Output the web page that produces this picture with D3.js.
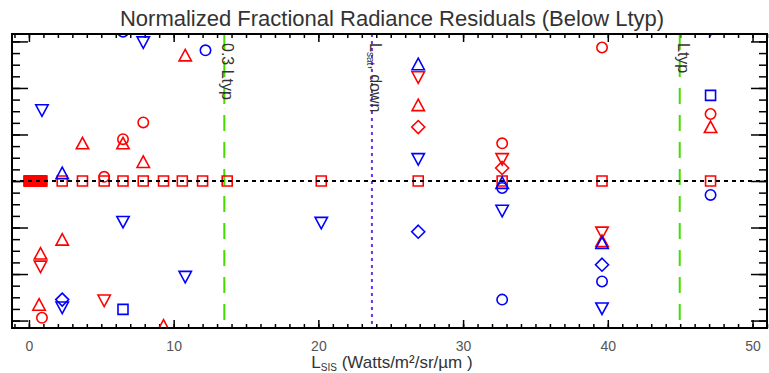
<!DOCTYPE html>
<head>
  <meta charset="utf-8">
  <script src="https://cdn.jsdelivr.net/npm/d3@7"></script>
  <style>
    body { margin: 0; background: #fff; }
    svg { display: block; font-family: 'Liberation Sans', Arial, sans-serif; }
  </style>
</head>
<body>
<div id="chart"></div>
<script>
// [L_sis, normalized residual]
const red_squares = [[0, 0], [0.05, 0], [0.1, 0], [0.15, 0], [0.2, 0], [0.25, 0], [0.3, 0], [0.35, 0], [0.4, 0],
  [0.45, 0], [0.5, 0], [0.55, 0], [0.6, 0], [0.65, 0], [0.7, 0], [0.75, 0], [0.8, 0], [0.85, 0], [0.9, 0],
  [2.3, 0], [3.7, 0], [5.2, 0], [6.5, 0], [7.9, 0], [9.3, 0], [10.6, 0], [12.0, 0], [13.7, 0],
  [20.2, 0], [26.9, 0], [32.7, 0], [39.6, 0], [47.1, 0]]
const red_circles = [[0.9, -2.94], [5.2, 0.09], [6.5, 0.90], [7.9, 1.26], [32.7, 0.81], [39.6, 2.87], [47.1, 1.44]]
const red_up = [[0.8, -1.56], [0.7, -2.66], [2.3, -1.26], [3.7, 0.81], [6.5, 0.81], [7.9, 0.41], [9.3, -3.11],
  [10.8, 2.70], [26.9, 1.63], [39.6, -1.29], [47.1, 1.16]]
const red_down = [[0.8, -1.84], [5.2, -2.57], [26.9, 2.23], [32.7, 0.47], [39.6, -1.11]]
const red_diamonds = [[26.9, 1.16], [32.7, 0.28]]

const blue_squares = [[6.5, -2.76], [47.1, 1.84]]
const blue_circles = [[6.5, 3.21], [12.2, 2.81], [32.7, -0.15], [32.7, -2.55], [39.6, -2.16], [47.1, -0.30]]
const blue_up = [[2.3, 0.17], [26.9, 2.51], [32.7, -0.04], [39.6, -1.33]]
const blue_down = [[0.9, 1.52], [2.3, -2.72], [6.5, -0.88], [7.9, 2.98], [10.8, -2.06], [20.2, -0.90],
  [26.9, 0.47], [32.7, -0.64], [39.6, -2.74], [47.1, 3.26]]
const blue_diamonds = [[2.3, -2.55], [26.9, -1.09], [39.6, -1.80]]

const ref_x = [13.5, 23.7, 44.97]
const x_ticks = [0, 10, 20, 30, 40, 50]

const width = 769, height = 373
const margin = { top: 34, right: 2, bottom: 45, left: 12 }

const svg = d3.select('#chart').append('svg')
  .attr('width', width).attr('height', height)
  .attr('viewBox', [0, 0, width, height])

const x = d3.scaleLinear().domain([-1.17, 51.0]).range([margin.left, width - margin.right])
const y = d3.scaleLinear().domain([-3.16, 3.16]).range([height - margin.bottom, margin.top])

svg.append('clipPath').attr('id', 'plot-clip')
  .append('rect')
  .attr('x', margin.left).attr('y', margin.top)
  .attr('width', width - margin.left - margin.right)
  .attr('height', height - margin.top - margin.bottom)

// title
svg.append('text')
  .attr('x', 392).attr('y', 26)
  .attr('text-anchor', 'middle')
  .attr('font-size', 22).attr('fill', '#333')
  .text('Normalized Fractional Radiance Residuals (Below Ltyp)')

// axes, ticks pointing inward
const x_minor = d3.range(-1, 52)
const y_minor = d3.range(-3, 3.01, 0.25)
const y_major = [-3, -2, -1, 0, 1, 2, 3]
const b = height - margin.bottom, t = margin.top, l = margin.left, r = width - margin.right

const style_axis = g => {
  g.select('.domain').remove()
  g.selectAll('.tick line').attr('stroke', '#000').attr('stroke-width', 1.5)
}

svg.append('g').attr('transform', `translate(0,${b})`)
  .call(d3.axisBottom(x).tickValues(x_minor).tickSize(-4).tickFormat(''))
  .call(style_axis)
svg.append('g').attr('transform', `translate(0,${b})`)
  .call(d3.axisBottom(x).tickValues(x_ticks).tickSize(-8))
  .call(style_axis)
  .call(g => g.selectAll('text').attr('y', 23).attr('dy', 0)
    .attr('font-size', 14).attr('fill', '#555').attr('font-family', null))
svg.append('g').attr('transform', `translate(0,${t})`)
  .call(d3.axisTop(x).tickValues(x_minor).tickSize(-4).tickFormat(''))
  .call(style_axis)
svg.append('g').attr('transform', `translate(0,${t})`)
  .call(d3.axisTop(x).tickValues(x_ticks).tickSize(-8).tickFormat(''))
  .call(style_axis)

svg.append('g').attr('transform', `translate(${l},0)`)
  .call(d3.axisLeft(y).tickValues(y_minor).tickSize(-8).tickFormat(''))
  .call(style_axis)
svg.append('g').attr('transform', `translate(${l},0)`)
  .call(d3.axisLeft(y).tickValues(y_major).tickSize(-16).tickFormat(''))
  .call(style_axis)
svg.append('g').attr('transform', `translate(${r},0)`)
  .call(d3.axisRight(y).tickValues(y_minor).tickSize(-8).tickFormat(''))
  .call(style_axis)
svg.append('g').attr('transform', `translate(${r},0)`)
  .call(d3.axisRight(y).tickValues(y_major).tickSize(-16).tickFormat(''))
  .call(style_axis)

// x label
const xl = svg.append('text')
  .attr('x', 392).attr('y', 368)
  .attr('text-anchor', 'middle')
  .attr('font-size', 17).attr('fill', '#333')
xl.append('tspan').text('L')
xl.append('tspan').attr('font-size', 10).attr('dy', 3).text('SIS')
xl.append('tspan').attr('dy', -3).text(' (Watts/m²/sr/µm )')

// reference lines
const ref_styles = [
  { color: '#44dd00', dash: '16,11' },
  { color: '#6a35e8', dash: '3,4' },
  { color: '#44dd00', dash: '16,11' },
]
ref_x.forEach((v, i) => {
  svg.append('line')
    .attr('x1', x(v)).attr('x2', x(v))
    .attr('y1', t).attr('y2', b)
    .attr('stroke', ref_styles[i].color)
    .attr('stroke-width', 2)
    .attr('stroke-dasharray', ref_styles[i].dash)
})

const ref_label = (v, build) => {
  const txt = svg.append('text')
    .attr('transform', `translate(${x(v) - 2},43) rotate(90)`)
    .attr('font-size', 16).attr('fill', '#333')
  build(txt)
}
ref_label(ref_x[0], s => s.text('0.3 Ltyp'))
ref_label(ref_x[1], s => {
  s.append('tspan').text('L')
  s.append('tspan').attr('font-size', 10).attr('dy', 3).text('sat')
  s.append('tspan').attr('dy', -3).text(', down')
})
ref_label(ref_x[2], s => s.text('Ltyp'))

// markers
const shapes = {
  square: 'M-5,-5h10v10h-10Z',
  circle: d3.symbol(d3.symbolCircle, Math.PI * 5.2 * 5.2)(),
  up: 'M0,-6L6.2,5.5L-6.2,5.5Z',
  down: 'M0,6L6.2,-5.5L-6.2,-5.5Z',
  diamond: 'M0,-6.5L6.5,0L0,6.5L-6.5,0Z',
}
const marks = svg.append('g').attr('clip-path', 'url(#plot-clip)')
const draw = (data, shape, color) => {
  marks.append('g').selectAll('path').data(data).join('path')
    .attr('transform', d => `translate(${x(d[0])},${y(d[1])})`)
    .attr('d', shapes[shape])
    .attr('fill', 'none')
    .attr('stroke', color)
    .attr('stroke-width', 1.6)
}
const red = '#ff0000', blue = '#0000ff'
draw(red_squares, 'square', red)
draw(red_circles, 'circle', red)
draw(red_up, 'up', red)
draw(red_down, 'down', red)
draw(red_diamonds, 'diamond', red)
draw(blue_squares, 'square', blue)
draw(blue_circles, 'circle', blue)
draw(blue_up, 'up', blue)
draw(blue_down, 'down', blue)
draw(blue_diamonds, 'diamond', blue)

// zero line
svg.append('line')
  .attr('x1', l).attr('x2', r)
  .attr('y1', y(0)).attr('y2', y(0))
  .attr('stroke', '#000').attr('stroke-width', 2)
  .attr('stroke-dasharray', '4,4')

// frame
svg.append('rect')
  .attr('x', l).attr('y', t)
  .attr('width', r - l).attr('height', b - t)
  .attr('fill', 'none').attr('stroke', '#000').attr('stroke-width', 2)
</script>
</body>
